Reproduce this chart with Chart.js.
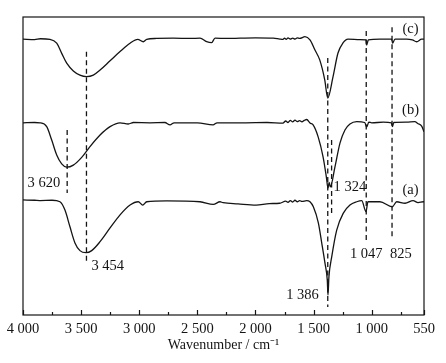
<!DOCTYPE html>
<html>
<head>
<meta charset="utf-8">
<script src="https://cdn.jsdelivr.net/npm/chart.js@4.4.1/dist/chart.umd.min.js"></script>
<style>
  html, body { margin: 0; padding: 0; background: #fff; }
  #wrap { width: 446px; height: 363px; }
</style>
</head>
<body>
<div id="wrap"><canvas id="chart" width="446" height="363"></canvas></div>
<script>
// spectra (transmittance, arbitrary units 0-100)
const waveC = [4000, 3900, 3850, 3768, 3710, 3667, 3624, 3567, 3510, 3454, 3395, 3337, 3251, 3165, 3079, 3013, 2965, 2936, 2850, 2707, 2560, 2477, 2420, 2377, 2348, 2250, 2133, 2000, 1846, 1790, 1763, 1750, 1735, 1720, 1700, 1680, 1660, 1640, 1620, 1574, 1531, 1488, 1447, 1404, 1378, 1333, 1290, 1247, 1204, 1100, 1049, 1043, 1029, 929, 828, 820, 800, 699, 650, 613, 570, 550];
const transC = [92.6, 92.4, 92.7, 92.5, 91.2, 87.8, 84.5, 81.9, 80.5, 80.0, 80.5, 82.2, 85.3, 88.4, 91.2, 92.5, 91.7, 92.5, 92.8, 92.9, 92.8, 92.9, 91.7, 91.4, 92.9, 92.8, 92.9, 93.0, 92.9, 92.6, 92.5, 92.9, 92.5, 93.0, 92.6, 92.9, 92.6, 93.0, 92.8, 93.4, 92.3, 88.9, 85.6, 78.9, 72.8, 79.9, 87.9, 91.3, 92.6, 92.4, 92.3, 90.6, 92.3, 92.6, 92.6, 91.2, 92.6, 92.6, 92.3, 91.7, 92.6, 92.6];

const waveB = [4000, 3900, 3854, 3796, 3753, 3710, 3667, 3624, 3567, 3495, 3424, 3337, 3251, 3165, 3094, 3050, 2907, 2780, 2735, 2700, 2500, 2365, 2330, 2100, 1900, 1763, 1740, 1720, 1700, 1680, 1660, 1640, 1620, 1600, 1580, 1559, 1531, 1504, 1460, 1418, 1390, 1376, 1366, 1356, 1316, 1273, 1230, 1187, 1129, 1060, 1043, 1025, 1000, 900, 830, 822, 810, 700, 630, 600, 570, 550];
const transB = [64.5, 64.6, 64.5, 63.2, 58.7, 53.7, 50.7, 49.6, 50.3, 52.9, 56.5, 60.4, 63.2, 64.5, 64.1, 64.6, 64.5, 64.6, 63.8, 64.5, 64.5, 63.8, 64.5, 64.5, 64.6, 64.4, 65.1, 64.6, 65.3, 64.8, 65.4, 64.9, 65.2, 64.8, 65.3, 65.6, 64.4, 63.8, 59.7, 53.0, 46.3, 42.6, 44.5, 43.0, 49.7, 57.7, 62.1, 64.1, 64.9, 64.6, 63.1, 64.7, 64.5, 64.7, 64.5, 63.2, 64.6, 64.7, 64.9, 64.2, 63.4, 61.5];

const waveA = [4000, 3900, 3854, 3750, 3682, 3639, 3596, 3553, 3510, 3458, 3409, 3337, 3251, 3165, 3079, 3008, 2970, 2936, 2764, 2477, 2363, 2305, 2279, 2150, 1995, 1880, 1792, 1740, 1720, 1700, 1680, 1660, 1640, 1620, 1600, 1560, 1531, 1502, 1459, 1430, 1402, 1382, 1376, 1368, 1344, 1301, 1244, 1187, 1129, 1086, 1049, 1032, 929, 823, 785, 713, 644, 601, 556, 550];
const transA = [38.6, 38.5, 38.4, 38.5, 38.0, 35.2, 29.6, 24.2, 21.6, 20.9, 21.6, 24.6, 29.2, 33.6, 36.9, 38.0, 36.9, 38.0, 38.3, 38.0, 37.1, 38.0, 37.7, 37.3, 36.9, 37.4, 37.5, 38.2, 37.8, 38.4, 37.9, 38.5, 38.0, 38.4, 38.1, 38.4, 38.0, 36.3, 30.9, 24.2, 17.4, 11.7, 6.7, 12.8, 19.5, 28.5, 34.2, 36.9, 38.0, 38.4, 34.7, 38.0, 38.0, 36.3, 38.0, 37.5, 38.4, 37.7, 38.0, 38.0];

// dashed peak markers
const markWave = [3620, 3454, 1378, 1345, 1047, 825];
const markTop = [62.1, 88.3, 86.2, 58.7, 95.3, 96.6];
const markBottom = [40.9, 17.4, 2.7, 34.2, 24.5, 25.8];

// x axis ticks
const majorTicks = [4000, 3500, 3000, 2500, 2000, 1500, 1000, 550];
const minorTicks = [3750, 3250, 2750, 2250, 1750, 1250, 750];

const serif = '"Liberation Serif", "Times New Roman", serif';
const ink = '#141414';

function fmt(n) {
    if (n < 1000) return String(n);
    const s = String(n);
    return s.slice(0, s.length - 3) + ' ' + s.slice(-3);
}

function pts(w, t) {
    return w.map((x, i) => ({ x: x, y: t[i] }));
}

const datasets = [
    { data: pts(waveC, transC) },
    { data: pts(waveB, transB) },
    { data: pts(waveA, transA) }
].map(d => Object.assign(d, {
    borderColor: ink, borderWidth: 1.3, pointRadius: 0, tension: 0, cubicInterpolationMode: 'monotone', fill: false
}));

markWave.forEach((w, i) => {
    datasets.push({
        data: [{ x: w, y: markTop[i] }, { x: w, y: markBottom[i] }],
        borderColor: ink, borderWidth: 1.3, borderDash: [5, 3.5], pointRadius: 0, fill: false
    });
});

const notes = [
    { text: '3 620', x: 3620, y: 44.3, align: 'right', dx: -7 },
    { text: '3 454', x: 3454, y: 16.4, align: 'left', dx: 5 },
    { text: '1 386', x: 1378, y: 6.7, align: 'right', dx: -9 },
    { text: '1 324', x: 1345, y: 43.0, align: 'left', dx: 2 },
    { text: '1 047', x: 1047, y: 20.5, align: 'center', dx: 0 },
    { text: '825', x: 825, y: 20.5, align: 'left', dx: -2 },
    { text: '(c)', x: 666, y: 95.9, align: 'center', dx: 0 },
    { text: '(b)', x: 666, y: 68.8, align: 'center', dx: 0 },
    { text: '(a)', x: 666, y: 41.9, align: 'center', dx: 0 }
];

const framePlugin = {
    id: 'frame',
    afterDatasetsDraw(chart) {
        const { ctx, chartArea: a, scales } = chart;
        ctx.save();
        ctx.strokeStyle = ink;
        ctx.lineWidth = 1.2;
        ctx.strokeRect(a.left, a.top, a.right - a.left, a.bottom - a.top);
        ctx.beginPath();
        majorTicks.forEach(v => {
            const px = Math.round(scales.x.getPixelForValue(v)) + 0.5;
            ctx.moveTo(px, a.bottom); ctx.lineTo(px, a.bottom - 5);
        });
        minorTicks.forEach(v => {
            const px = Math.round(scales.x.getPixelForValue(v)) + 0.5;
            ctx.moveTo(px, a.bottom); ctx.lineTo(px, a.bottom - 3);
        });
        ctx.stroke();
        ctx.fillStyle = ink;
        ctx.font = '14.5px ' + serif;
        ctx.textBaseline = 'middle';
        notes.forEach(n => {
            ctx.textAlign = n.align;
            ctx.fillText(n.text, scales.x.getPixelForValue(n.x) + n.dx, scales.y.getPixelForValue(n.y));
        });
        ctx.restore();
    }
};

new Chart(document.getElementById('chart').getContext('2d'), {
    type: 'line',
    data: { datasets: datasets },
    options: {
        responsive: false,
        animation: false,
        devicePixelRatio: 1,
        layout: { padding: { left: 23, right: 22, top: 17, bottom: 0 } },
        plugins: { legend: { display: false }, tooltip: { enabled: false } },
        scales: {
            x: {
                type: 'linear',
                reverse: true,
                min: 550,
                max: 4000,
                afterBuildTicks: s => { s.ticks = majorTicks.map(v => ({ value: v })); },
                afterFit: s => { s.height = 48; },
                grid: { display: false },
                border: { display: false },
                ticks: { color: ink, font: { family: serif, size: 14.5 }, padding: -3, maxRotation: 0, autoSkip: false, callback: v => fmt(v) },
                title: { display: true, text: 'Wavenumber / cm⁻¹', color: ink, font: { family: serif, size: 14 }, padding: { top: 0, bottom: 9 } }
            },
            y: { display: false, min: 0, max: 100 }
        }
    },
    plugins: [framePlugin]
});
</script>
</body>
</html>
